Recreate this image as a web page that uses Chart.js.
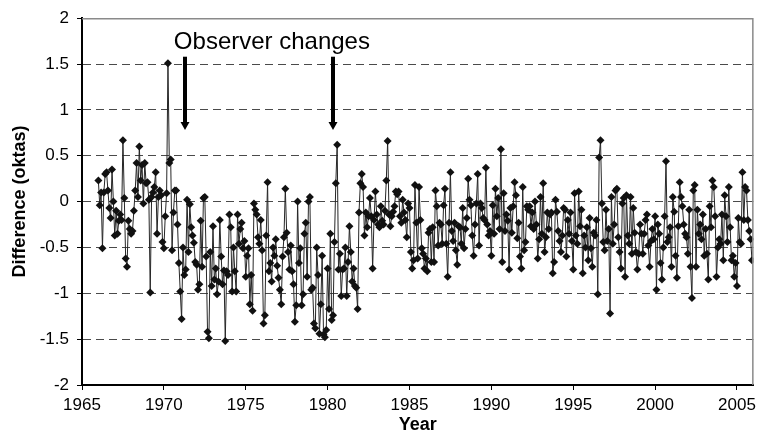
<!DOCTYPE html>
<html>
<head>
<meta charset="utf-8">
<script src="https://cdn.jsdelivr.net/npm/chart.js@4.4.1/dist/chart.umd.min.js"></script>
<style>
  html, body { margin: 0; padding: 0; background: #fff; }
  #wrap { width: 761px; height: 438px; }
</style>
</head>
<body>
<div id="wrap"><canvas id="diffChart" width="761" height="438"></canvas></div>
<script>
// monthly differences (oktas), January 1966 onwards
var startYear = 1966;
var diff1960s = [
  0.23, -0.04, 0.1, -0.51, 0.1, 0.3, 0.32, 0.12, -0.07, -0.18, 0.35, 0.0,
  -0.37, -0.1, -0.35, -0.21, -0.14, -0.2, 0.67, 0.04, -0.62, -0.71, -0.21, -0.3,
  -0.35, -0.32, -0.1, 0.12, 0.42, 0.05, 0.6, 0.23, 0.4, -0.02, 0.42, 0.2,
  0.21, 0.02, -0.99, 0.05, 0.1, 0.16, 0.32, -0.35, 0.05, 0.12, 0.07, -0.44
];
var diff1970s = [
  -0.51, -0.16, 0.09, 1.51, 0.42, 0.46, -0.53, -0.12, 0.12, 0.12, -0.25, -0.67,
  -0.98, -1.28, -0.5, -0.8, -0.74, 0.02, -0.55, -0.03, -0.28, -0.37, -0.45, -0.66,
  -0.69, -0.96, -0.9, -0.21, -0.71, 0.04, 0.05, -0.6, -1.42, -1.49, -0.55, -0.92,
  -0.27, -0.85, -0.73, -1.01, -0.87, -0.2, -0.6, -0.9, -0.75, -1.52, -0.76, -0.8,
  -0.14, -0.28, -0.98, -0.5, -0.76, -0.98, -0.14, -0.46, -0.3, -0.23, -0.51, -0.43,
  -0.82, -0.59, -0.51, -1.12, -0.8, -1.19, -0.02, -0.09, -0.14, -0.39, -0.46, -0.2,
  -0.53, -1.33, -1.24, -0.37, 0.21, -0.76, -0.67, -0.87, -0.5, -0.59, -0.41, -0.7,
  -0.83, -0.96, -1.12, -0.6, -0.39, 0.14, -0.34, -0.55, -0.74, -0.48, -0.76, -0.9,
  -1.31, -1.13, 0.0, -0.67, -0.51, -1.13, -1.01, -0.35, -0.23, -0.82, 0.0, 0.05,
  -0.96, -0.94, -1.33, -1.38, -0.5, -0.8, -1.44, -1.12, -0.59, -1.45, -1.48, -1.4
];
var diff1980s = [
  -0.73, -1.17, -0.35, -1.29, -1.24, -0.44, 0.2, 0.62, -0.74, -0.57, -1.03, -0.74,
  -0.73, -0.5, -1.03, -0.66, -0.27, -0.55, -0.87, -0.73, -0.92, -0.94, -1.17, -0.12,
  0.2, 0.3, 0.16, -0.37, -0.12, -0.28, -0.16, 0.04, -0.16, -0.73, -0.2, 0.11,
  -0.14, -0.25, -0.28, -0.05, -0.21, -0.25, -0.1, 0.23, 0.66, -0.14, -0.27, -0.16,
  -0.11, -0.05, 0.11, 0.08, 0.11, -0.16, -0.23, 0.02, -0.12, -0.2, -0.39, -0.02,
  -0.07, -0.55, -0.73, -0.64, 0.18, -0.23, -0.62, 0.16, -0.2, -0.51, -0.57, -0.73,
  -0.62, -0.76, -0.34, -0.3, -0.66, -0.28, -0.66, 0.12, -0.05, -0.48, -0.23, -0.25,
  -0.46, -0.04, 0.14, -0.46, -0.82, -0.23, 0.32, -0.32, -0.43, -0.23, -0.53, -0.69,
  -0.27, -0.28, -0.46, -0.07, -0.51, -0.3, -0.18, 0.25, 0.02, -0.04, -0.37, -0.59,
  -0.25, -0.02, 0.3, -0.48, -0.02, -0.07, -0.18, -0.2, 0.37, -0.25, -0.37, -0.32
];
var diff1990s = [
  -0.59, -0.04, -0.35, 0.14, -0.16, 0.04, -0.3, 0.57, -0.66, 0.09, -0.32, -0.14,
  -0.21, -0.74, -0.07, -0.34, -0.05, 0.21, 0.07, -0.4, -0.23, -0.6, -0.73, 0.16,
  -0.53, -0.44, -0.05, -0.09, -0.05, -0.27, -0.12, -0.3, 0.0, -0.25, -0.62, -0.41,
  0.05, -0.35, 0.2, -0.55, -0.39, -0.12, -0.3, -0.14, -0.12, -0.78, -0.66, 0.02,
  -0.11, -0.32, -0.43, -0.55, -0.37, -0.07, -0.09, -0.6, -0.2, -0.35, -0.12, -0.43,
  -0.74, 0.09, -0.37, -0.46, 0.11, -0.27, -0.09, -0.78, -0.37, -0.5, -0.28, -0.64,
  -0.18, -0.51, -0.71, -0.34, -0.37, -0.2, -1.01, 0.48, 0.67, -0.02, -0.44, -0.53,
  -0.09, -0.43, -0.3, -1.22, 0.05, -0.46, -0.25, 0.12, 0.14, -0.39, -0.55, -0.73,
  -0.02, 0.04, -0.82, 0.07, -0.37, -0.46, 0.05, -0.57, -0.07, -0.34, -0.55, -0.74,
  -0.57, -0.25, -0.35, -0.57, -0.35, -0.2, -0.14, -0.48, -0.71, -0.43, -0.3, -0.41
];
var diff2000s = [
  -0.16, -0.96, -0.25, -0.35, -0.67, -0.85, -0.5, -0.16, 0.44, -0.44, -0.39, -0.28,
  -0.71, 0.05, -0.11, -0.59, -0.83, -0.27, 0.21, 0.05, -0.05, -0.25, -0.35, -0.39,
  -0.57, -0.09, -0.71, -1.05, 0.12, 0.18, -0.71, -0.09, -0.35, -0.25, -0.41, -0.14,
  -0.59, -0.3, -0.57, -0.85, -0.05, -0.28, 0.23, 0.16, -0.16, -0.82, -0.5, -0.41,
  -0.46, -0.14, -0.64, 0.07, -0.16, -0.44, 0.16, -0.28, -0.64, -0.59, -0.82, -0.67,
  -0.92, -0.18, -0.44, -0.46, 0.32, -0.2, 0.16, 0.12, -0.2, -0.32, -0.41, -0.64
];

// axes
var xMin = 1965, xMax = 2006, xStep = 5;
var yMin = -2, yMax = 2, yStep = 0.5;

// annotation
var noteText = 'Observer changes';
var arrowYears = [1971.32, 1980.35];

var allDiffs = diff1960s.concat(diff1970s, diff1980s, diff1990s, diff2000s);
var points = allDiffs.map(function(v, i) {
    return { x: startYear + i / 12, y: v };
});

var FONT = '"Liberation Sans", Arial, Helvetica, sans-serif';

var notesPlugin = {
    id: 'notes',
    afterDatasetsDraw: function(chart) {
        var ctx = chart.ctx, area = chart.chartArea;
        var xs = chart.scales.x, ys = chart.scales.y;
        ctx.save();
        // grey frame on top and right
        ctx.strokeStyle = '#8a8a8a';
        ctx.lineWidth = 1.5;
        ctx.beginPath();
        ctx.moveTo(area.left, area.top + 0.5);
        ctx.lineTo(area.right - 0.5, area.top + 0.5);
        ctx.lineTo(area.right - 0.5, area.bottom);
        ctx.stroke();
        // arrows
        ctx.fillStyle = '#000';
        arrowYears.forEach(function(yr) {
            var px = Math.round(xs.getPixelForValue(yr));
            var top = ys.getPixelForValue(1.58);
            var tip = ys.getPixelForValue(0.78);
            ctx.fillRect(px - 2, top, 4, tip - top - 6);
            ctx.beginPath();
            ctx.moveTo(px - 4.5, tip - 8);
            ctx.lineTo(px + 4.5, tip - 8);
            ctx.lineTo(px, tip);
            ctx.closePath();
            ctx.fill();
        });
        ctx.font = '24px ' + FONT;
        ctx.textBaseline = 'alphabetic';
        ctx.textAlign = 'left';
        ctx.fillText(noteText, xs.getPixelForValue(1970.61), ys.getPixelForValue(1.668));
        ctx.restore();
    }
};

var ctx = document.getElementById('diffChart').getContext('2d');
var diffChart = new Chart(ctx, {
    type: 'line',
    data: {
        datasets: [{
            data: points,
            borderColor: '#262626',
            borderWidth: 1,
            pointStyle: 'rectRot',
            pointRadius: 4,
            pointBackgroundColor: '#111',
            pointBorderColor: '#111',
            pointBorderWidth: 0,
            tension: 0,
            fill: false
        }]
    },
    options: {
        responsive: false,
        animation: false,
        devicePixelRatio: 1,
        layout: { padding: { top: 11, right: 5, left: 0, bottom: 0 } },
        plugins: {
            legend: { display: false },
            tooltip: { enabled: false }
        },
        scales: {
            x: {
                type: 'linear',
                min: xMin,
                max: xMax,
                afterFit: function(scale) { scale.height = 53; },
                ticks: {
                    stepSize: xStep,
                    includeBounds: false,
                    color: '#000',
                    padding: 5,
                    maxRotation: 0,
                    font: { family: FONT, size: 17 },
                    callback: function(v) { return String(v); }
                },
                grid: {
                    drawOnChartArea: false,
                    tickLength: 5,
                    tickColor: '#000',
                    tickWidth: 1
                },
                border: { color: '#000', width: 2 },
                title: {
                    display: true,
                    text: 'Year',
                    color: '#000',
                    font: { family: FONT, size: 18, weight: 'bold' },
                    padding: { top: 0, bottom: 2 }
                }
            },
            y: {
                min: yMin,
                max: yMax,
                afterFit: function(scale) { scale.width = 82; },
                ticks: {
                    stepSize: yStep,
                    color: '#000',
                    padding: 8,
                    font: { family: FONT, size: 17 },
                    callback: function(v) { return String(v); }
                },
                grid: {
                    color: function(c) {
                        var v = c.tick ? c.tick.value : 0;
                        return (v === yMin || v === yMax) ? 'rgba(0,0,0,0)' : '#4a4a4a';
                    },
                    lineWidth: 1,
                    tickLength: 5,
                    tickColor: '#000',
                    tickBorderDash: []
                },
                border: { color: '#000', width: 2, dash: [8, 5] },
                title: {
                    display: true,
                    text: 'Difference (oktas)',
                    color: '#000',
                    font: { family: FONT, size: 18, weight: 'bold' },
                    padding: { top: 9, bottom: 0 }
                }
            }
        }
    },
    plugins: [notesPlugin]
});
</script>
</body>
</html>
